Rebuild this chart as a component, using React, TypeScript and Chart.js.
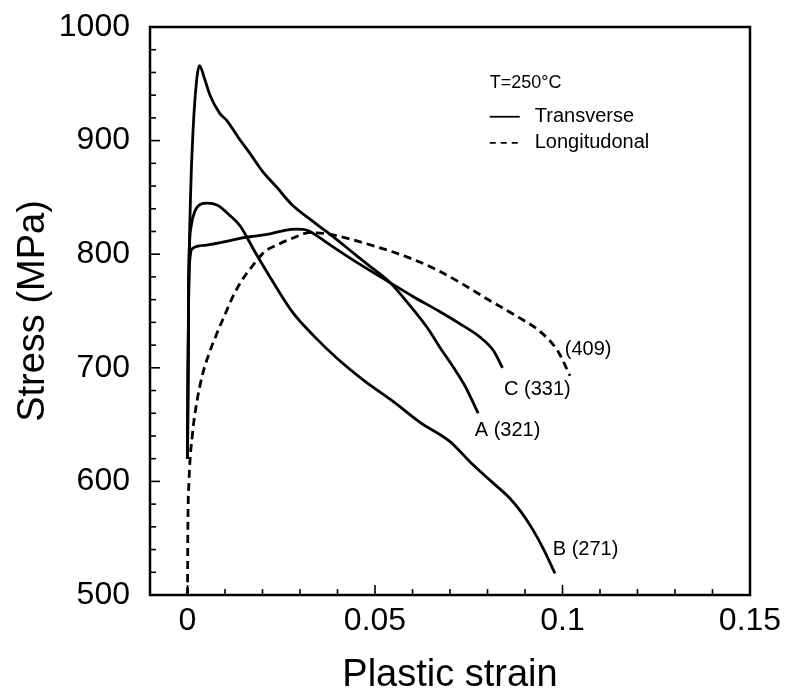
import React, { useEffect, useRef } from "react";
import { Chart, registerables } from "chart.js";
Chart.register(...registerables);

const FONT = "'Liberation Sans', Arial, Helvetica, sans-serif";

// Axis ticks
const xTicks = [0, 0.05, 0.1, 0.15];
const yTicks = [500, 600, 700, 800, 900, 1000];
const xTitle = "Plastic strain";
const yTitle = "Stress (MPa)";

// Transverse A (highest peak)
const strainA = [0, 0.0003, 0.0008, 0.0015, 0.0025, 0.0032, 0.0045, 0.006, 0.0086, 0.0104, 0.0135, 0.0166, 0.02, 0.0238, 0.028, 0.033, 0.037, 0.042, 0.048, 0.054, 0.059, 0.064, 0.0675, 0.071, 0.074, 0.0775];
const stressA = [620, 760, 850, 910, 955, 966, 955, 940, 924, 918, 903, 889, 873, 859, 843, 830, 820, 807, 791, 775, 756, 735, 717, 700, 684, 660];

// Transverse C (flat ~805 start)
const strainC = [0, 0.0003, 0.0008, 0.0013, 0.005, 0.01, 0.014, 0.018, 0.022, 0.026, 0.029, 0.032, 0.035, 0.039, 0.046, 0.054, 0.06, 0.067, 0.073, 0.078, 0.0816, 0.084];
const stressC = [620, 760, 800, 805, 808, 811, 814, 816, 818, 821, 822, 821, 815, 806, 791, 775, 763, 750, 738, 727, 715, 700];

// Transverse B (peak ~845)
const strainB = [0, 0.0003, 0.001, 0.002, 0.0035, 0.0053, 0.008, 0.011, 0.014, 0.018, 0.022, 0.028, 0.034, 0.04, 0.047, 0.055, 0.062, 0.07, 0.076, 0.081, 0.086, 0.089, 0.092, 0.095, 0.098];
const stressB = [620, 780, 825, 838, 844, 845, 843, 835, 825, 802, 780, 749, 727, 708, 689, 670, 652, 635, 615, 600, 585, 573, 558, 540, 519];

// Longitudinal (dashed)
const strainL = [0, 0.0001, 0.0004, 0.0013, 0.0025, 0.004, 0.0058, 0.0078, 0.01, 0.012, 0.0145, 0.0174, 0.0205, 0.0238, 0.028, 0.0326, 0.037, 0.0414, 0.05, 0.059, 0.066, 0.0727, 0.0807, 0.088, 0.094, 0.0987, 0.102];
const stressL = [500, 560, 600, 641, 670, 694, 713, 730, 747, 762, 777, 790, 802, 808, 814, 819, 818, 815, 807, 797, 787, 775, 759, 745, 732, 715, 693];

// Curve annotations
const curveLabels = ["(409)", "C (331)", "A (321)", "B (271)"];
const curveLabelX = [0.1006, 0.0844, 0.0766, 0.0974];
const curveLabelY = [716, 681, 645, 540];

// Legend
const legendTitle = "T=250\u00B0C";
const legendItems = ["Transverse", "Longitudonal"];
const legendX = 0.0806;
const legendLineEnd = 0.0886;
const legendTextX = 0.0926;
const legendTitleY = 951;
const legendItemY = [921, 898];

const toPts = (xs: number[], ys: number[]) => xs.map((x, i) => ({ x, y: ys[i] }));

const decor = {
  id: "decor",
  afterDraw(chart: any) {
    const { ctx, chartArea: a, scales } = chart;
    const xs = scales.x;
    const ys = scales.y;
    ctx.save();
    ctx.strokeStyle = "#000";
    ctx.fillStyle = "#000";
    ctx.lineWidth = 2.5;
    ctx.strokeRect(a.left, a.top, a.right - a.left, a.bottom - a.top);
    ctx.lineWidth = 1.6;
    for (let i = 0; i <= 15; i++) {
      const v = i * 0.01;
      const px = xs.getPixelForValue(v);
      const len = i % 5 === 0 ? 10 : 6;
      ctx.beginPath();
      ctx.moveTo(px, a.bottom);
      ctx.lineTo(px, a.bottom - len);
      ctx.stroke();
    }
    for (let i = 0; i <= 25; i++) {
      const v = 500 + i * 20;
      const py = ys.getPixelForValue(v);
      const len = i % 5 === 0 ? 10 : 6;
      ctx.beginPath();
      ctx.moveTo(a.left, py);
      ctx.lineTo(a.left + len, py);
      ctx.stroke();
    }
    // curve labels
    ctx.font = `20px ${FONT}`;
    ctx.textAlign = "left";
    ctx.textBaseline = "middle";
    curveLabels.forEach((t, i) => {
      ctx.fillText(t, xs.getPixelForValue(curveLabelX[i]), ys.getPixelForValue(curveLabelY[i]));
    });
    // legend
    ctx.font = `18px ${FONT}`;
    ctx.fillText(legendTitle, xs.getPixelForValue(legendX), ys.getPixelForValue(legendTitleY));
    ctx.font = `20px ${FONT}`;
    legendItems.forEach((t, i) => {
      const py = ys.getPixelForValue(legendItemY[i]);
      ctx.lineWidth = 1.8;
      ctx.setLineDash(i === 0 ? [] : [6, 5]);
      ctx.beginPath();
      ctx.moveTo(xs.getPixelForValue(legendX), py);
      ctx.lineTo(xs.getPixelForValue(legendLineEnd), py);
      ctx.stroke();
      ctx.setLineDash([]);
      ctx.fillText(t, xs.getPixelForValue(legendTextX), py);
    });
    // axis titles
    ctx.font = `38px ${FONT}`;
    ctx.textAlign = "center";
    ctx.fillText(xTitle, (a.left + a.right) / 2, 676);
    ctx.save();
    ctx.translate(34, (a.top + a.bottom) / 2);
    ctx.rotate(-Math.PI / 2);
    ctx.fillText(yTitle, 0, 0);
    ctx.restore();
    ctx.restore();
  },
};

export default function App() {
  const ref = useRef<HTMLCanvasElement | null>(null);
  useEffect(() => {
    document.body.style.margin = "0";
    const line = (xs: number[], ys: number[], dashed: boolean) => ({
      data: toPts(xs, ys),
      borderColor: "#000",
      backgroundColor: "#000",
      borderWidth: 2.8,
      borderDash: dashed ? [8, 5] : [],
      pointRadius: 0,
      fill: false,
      cubicInterpolationMode: "monotone" as const,
    });
    const chart = new Chart(ref.current as HTMLCanvasElement, {
      type: "line",
      data: {
        datasets: [
          line(strainA, stressA, false),
          line(strainC, stressC, false),
          line(strainB, stressB, false),
          line(strainL, stressL, true),
        ],
      },
      options: {
        animation: false,
        responsive: false,
        maintainAspectRatio: false,
        layout: { padding: { top: 27, right: 36, left: 0, bottom: 0 } },
        plugins: { legend: { display: false }, tooltip: { enabled: false } },
        scales: {
          x: {
            type: "linear",
            min: -0.01,
            max: 0.15,
            grid: { display: false, drawTicks: false },
            border: { display: false },
            afterFit: (s: any) => {
              s.height = 103;
              s.paddingLeft = 0;
              s.paddingRight = 0;
            },
            afterBuildTicks: (s: any) => { s.ticks = xTicks.map((v) => ({ value: v })); },
            ticks: {
              padding: 7,
              maxRotation: 0,
              autoSkip: false,
              color: "#000",
              font: { size: 32, family: FONT },
              callback: (v: any) => String(v),
            },
          },
          y: {
            type: "linear",
            min: 500,
            max: 1000,
            grid: { display: false, drawTicks: false },
            border: { display: false },
            afterFit: (s: any) => {
              s.width = 150;
              s.paddingTop = 0;
              s.paddingBottom = 0;
            },
            afterBuildTicks: (s: any) => { s.ticks = yTicks.map((v) => ({ value: v })); },
            ticks: {
              padding: 20,
              autoSkip: false,
              color: "#000",
              font: { size: 32, family: FONT },
              callback: (v: any) => String(v),
            },
          },
        },
      },
      plugins: [decor],
    });
    return () => chart.destroy();
  }, []);
  return (
    <div style={{ position: "fixed", left: 0, top: 0, width: 786, height: 698, background: "#fff" }}>
      <canvas ref={ref} width={786} height={698} />
    </div>
  );
}
